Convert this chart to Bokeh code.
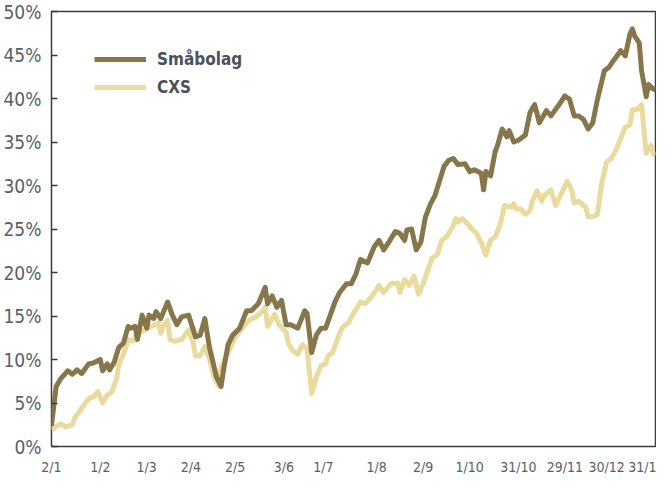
from bokeh.plotting import figure
from bokeh.models import Range1d, FixedTicker, Legend, LegendItem
from bokeh.embed import file_html
from bokeh.resources import INLINE

tick_days = [0, 21, 41, 60, 79, 100, 117, 140, 160, 180, 201, 221, 239, 260]
tick_labels = ["2/1", "1/2", "1/3", "2/4", "2/5", "3/6", "1/7", "1/8", "2/9",
               "1/10", "31/10", "29/11", "30/12", "31/1"]
y_ticks = [0, 5, 10, 15, 20, 25, 30, 35, 40, 45, 50]

sm_day = [0,2,4,7,9,11,13,16,18,21,22,24,25,27,29,31,33,34,36,37,39,41,42,44,45,47,50,52,54,56,
          59,62,64,66,68,71,73,74,76,78,81,84,86,89,92,93,95,97,99,101,103,106,109,110,112,114,116,118,120,122,
          124,127,129,131,133,136,139,141,143,145,148,150,152,153,155,157,159,161,163,165,167,169,171,173,175,178,180,182,185,186,
          187,189,191,192,194,196,197,199,201,204,206,208,210,213,215,218,221,223,225,227,229,231,233,235,238,240,242,244,245,247,
          249,250,251,253,254,256,257,259,260]
sm_val = [2.4,6.9,7.8,8.7,8.3,8.8,8.4,9.5,9.6,10.0,8.7,9.5,8.8,9.7,11.4,11.9,13.8,13.6,13.8,12.3,
          15.1,13.6,15.1,14.7,15.5,14.7,16.6,15.1,14.0,14.9,15.1,12.6,12.8,14.7,11.4,8.0,6.9,8.7,11.7,12.8,
          13.6,15.6,15.6,16.4,18.3,16.4,17.3,16.0,16.8,14.0,14.0,13.6,15.6,15.3,10.8,12.8,13.6,13.6,15.1,16.6,
          17.7,18.7,18.7,19.8,21.5,21.1,23.0,23.7,22.6,23.4,24.7,24.5,23.7,24.9,25.0,22.6,23.5,26.4,27.8,28.8,
          30.5,32.2,32.9,33.1,32.4,32.5,31.6,31.8,31.4,29.5,31.6,31.1,33.9,34.6,36.5,35.6,36.3,35.0,35.2,35.8,
          38.4,39.3,37.2,38.6,38.0,39.1,40.3,39.9,38.0,38.0,37.6,36.5,37.2,39.9,43.2,43.6,44.4,45.1,45.5,44.9,
          47.4,48.0,47.2,46.4,43.2,40.2,41.6,41.1,41.0]

cxs_day = [0,2,4,6,9,10,12,14,16,18,20,22,24,26,28,29,31,33,35,37,40,43,46,47,48,50,51,53,56,59,
           61,62,64,66,68,70,72,73,76,79,82,85,88,91,92,93,96,98,101,102,104,106,108,110,112,114,116,118,119,121,
           123,125,128,130,133,135,138,141,143,146,149,150,152,154,156,158,160,162,164,166,168,170,173,174,175,177,179,181,183,185,
           187,189,191,193,195,198,199,200,202,204,206,207,209,211,212,215,217,219,222,224,225,227,230,231,233,235,237,239,241,243,
           245,247,249,250,252,254,255,256,258,259,260]
cxs_val = [1.95,2.3,2.6,2.25,2.5,3.3,4.0,4.8,5.5,5.7,6.3,5.0,5.9,6.3,7.8,9.5,10.6,12.3,12.1,13.0,
           13.4,13.8,14.2,13.0,13.8,14.5,12.3,12.1,12.3,13.4,11.9,10.4,10.4,11.5,10.0,8.0,7.0,9.1,10.8,12.5,
           13.6,14.5,14.9,15.6,16.0,13.8,15.2,14.0,13.1,11.8,11.0,10.6,11.7,11.3,6.1,8.0,9.3,9.5,10.4,10.8,
           12.3,13.6,14.3,15.3,16.6,16.4,17.3,18.5,17.7,18.7,18.8,17.7,19.2,18.5,19.6,17.5,18.7,20.3,21.7,22.0,
           23.7,24.1,25.4,26.2,25.8,26.2,25.6,25.0,24.5,23.4,22.0,23.7,24.1,25.4,27.7,27.5,27.9,27.3,27.3,26.7,
           27.1,28.2,29.4,28.2,28.8,29.5,27.7,28.8,30.5,29.4,28.0,28.2,27.5,26.4,26.4,26.7,30.5,32.7,33.1,34.1,
           35.4,36.7,37.0,38.7,38.7,39.3,36.5,33.7,34.6,33.6,33.5]

DARK = "#86764a"
LIGHT = "#e9da9d"
TEXT = "#5a5f66"
FONT = "'DejaVu Sans Condensed', Roboto"

p = figure(width=656, height=477, output_backend="svg", toolbar_location=None,
           x_range=Range1d(0, 260), y_range=Range1d(0, 50),
           min_border_left=47, min_border_right=1, min_border_top=11, min_border_bottom=24)
p.background_fill_color = "white"
p.border_fill_color = "white"
p.outline_line_color = "#3c3c3c"
p.outline_line_width = 1.5
p.xgrid.visible = False
p.ygrid.visible = False

r_cxs = p.line(cxs_day, cxs_val, line_color=LIGHT, line_width=5, line_join="round")
r_sm = p.line(sm_day, sm_val, line_color=DARK, line_width=5, line_join="round")

xa = p.xaxis[0]
xa.ticker = FixedTicker(ticks=tick_days)
xa.major_label_overrides = {d: l for d, l in zip(tick_days, tick_labels)}
xa.axis_line_color = None
xa.major_tick_line_color = None
xa.minor_tick_line_color = None
xa.major_label_standoff = 6
xa.major_label_text_font = FONT
xa.major_label_text_font_size = "14px"
xa.major_label_text_color = TEXT

ya = p.yaxis[0]
ya.ticker = FixedTicker(ticks=y_ticks)
ya.major_label_overrides = {v: f"{v}%" for v in y_ticks}
ya.axis_line_color = None
ya.major_tick_line_color = "#3c3c3c"
ya.major_tick_line_width = 1.5
ya.major_tick_in = 6
ya.major_tick_out = 0
ya.minor_tick_line_color = None
ya.major_label_standoff = 10
ya.major_label_text_font = FONT
ya.major_label_text_font_size = "19px"
ya.major_label_text_color = TEXT

legend = Legend(items=[LegendItem(label="Småbolag", renderers=[r_sm]),
                       LegendItem(label="CXS", renderers=[r_cxs])],
                location=(43, 349))
legend.padding = 0
legend.margin = 0
legend.spacing = 8
legend.glyph_width = 52
legend.glyph_height = 20
legend.label_height = 20
legend.label_standoff = 11
legend.label_text_font = FONT
legend.label_text_font_size = "17px"
legend.label_text_font_style = "bold"
legend.label_text_color = "#4b5159"
legend.border_line_color = None
legend.background_fill_alpha = 0
p.add_layout(legend, "center")

open("out.html", "w").write(file_html(p, INLINE))
